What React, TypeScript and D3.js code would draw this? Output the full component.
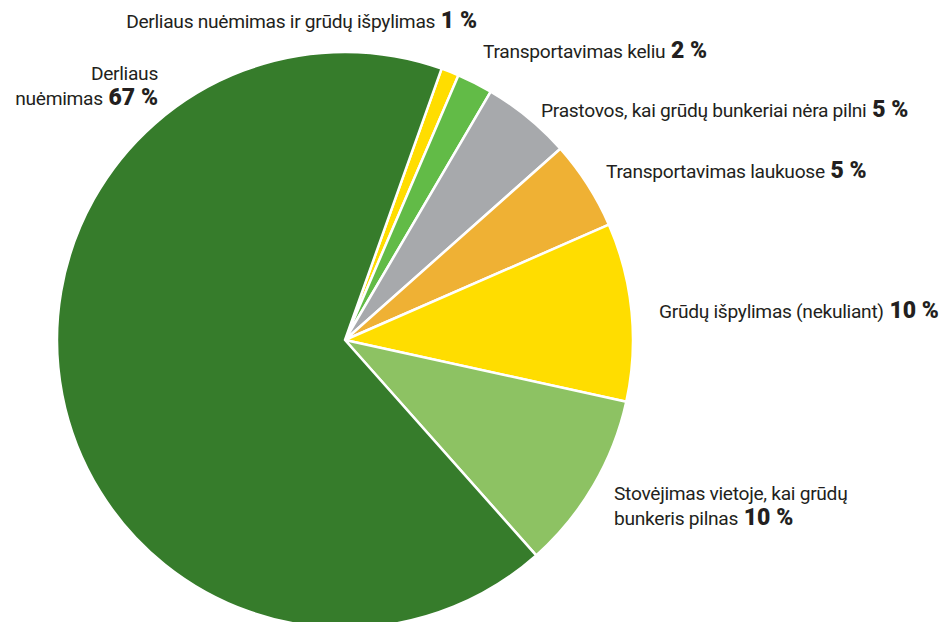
import React from "react";
import * as d3 from "d3";

const categories = [
  "Derliaus nuėmimas ir grūdų išpylimas",
  "Transportavimas keliu",
  "Prastovos, kai grūdų bunkeriai nėra pilni",
  "Transportavimas laukuose",
  "Grūdų išpylimas (nekuliant)",
  "Stovėjimas vietoje, kai grūdų bunkeris pilnas",
  "Derliaus nuėmimas",
];
const values = [1, 2, 5, 5, 10, 10, 67];
const colors = ["#FFDD00", "#62BB47", "#A7A9AC", "#EFB134", "#FFDD00", "#8DC263", "#367C2B"];

// label layout: lines (text parts), anchor, positions
const labelLines: { lines: string[]; anchor: "start" | "end"; x: number; y: number }[] = [
  { lines: ["Derliaus nuėmimas ir grūdų išpylimas"], anchor: "end", x: 477, y: 28 },
  { lines: ["Transportavimas keliu"], anchor: "start", x: 483, y: 58 },
  { lines: ["Prastovos, kai grūdų bunkeriai nėra pilni"], anchor: "start", x: 541, y: 117 },
  { lines: ["Transportavimas laukuose"], anchor: "start", x: 606, y: 178 },
  { lines: ["Grūdų išpylimas (nekuliant)"], anchor: "start", x: 659, y: 318 },
  { lines: ["Stovėjimas vietoje, kai grūdų", "bunkeris pilnas"], anchor: "start", x: 614, y: 500 },
  { lines: ["Derliaus", "nuėmimas"], anchor: "end", x: 158, y: 80 },
];

export default function App() {
  const width = 943;
  const height = 622;
  const cx = 345;
  const cy = 340;
  const r = 288;
  const start = (19.6 * Math.PI) / 180;
  const pie = d3
    .pie<number>()
    .sort(null)
    .value((d) => d)
    .startAngle(start)
    .endAngle(start + 2 * Math.PI);
  const arcs = pie(values);
  const arc = d3.arc<d3.PieArcDatum<number>>().innerRadius(0).outerRadius(r);
  const font = "Roboto, 'Noto Sans', sans-serif";
  return (
    <svg
      width={width}
      height={height}
      style={{ position: "absolute", left: 0, top: 0, background: "#fff" }}
    >
      <g transform={`translate(${cx},${cy})`}>
        {arcs.map((a, i) => (
          <path key={i} d={arc(a) || ""} fill={colors[i]} stroke="#fff" strokeWidth={2.5} strokeLinejoin="round" />
        ))}
      </g>
      {labelLines.map((l, i) => (
        <text key={i} fontFamily={font} fontSize={19.2} fill="#231F20" textAnchor={l.anchor} letterSpacing={-0.3}>
          {l.lines.map((line, j) => (
            <tspan key={j} x={l.x} y={l.y + j * 25}>
              {line}
              {j === l.lines.length - 1 ? (
                <tspan fontWeight={900} fontSize={23} letterSpacing={0}>{` ${values[i]} %`}</tspan>
              ) : null}
            </tspan>
          ))}
        </text>
      ))}
    </svg>
  );
}
